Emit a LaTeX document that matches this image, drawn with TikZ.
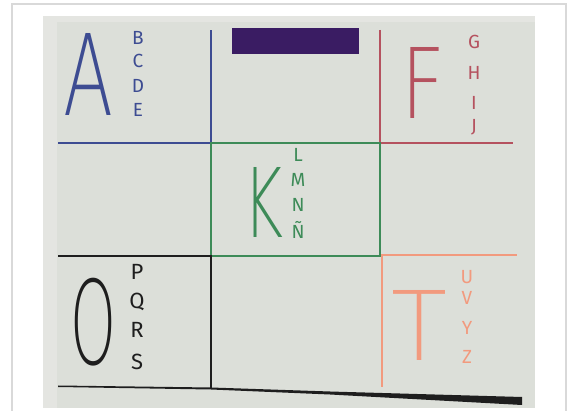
\documentclass[tikz,border=0pt]{standalone}
\usepackage{fontspec}
\setmainfont{Fira Sans}
\IfFontExistsTF{DejaVu Sans ExtraLight}
  {\newfontfamily\thinfont{DejaVu Sans ExtraLight}}
  {\newfontfamily\thinfont{DejaVu Sans}}
\definecolor{frame}{HTML}{D9D9D9}
\definecolor{paperedge}{HTML}{E4E5E1}
\definecolor{paper}{HTML}{DCDFD9}
\definecolor{penblue}{HTML}{3D4C92}
\definecolor{penred}{HTML}{B5525F}
\definecolor{pengreen}{HTML}{3D8B58}
\definecolor{penblack}{HTML}{1E1E1E}
\definecolor{penorange}{HTML}{F29A7E}
\definecolor{tape}{HTML}{3A1C63}
\tikzset{
  pen/.style={line width=0.8pt},
  big letter/.style={inner sep=0pt,font=\thinfont},
  small letter/.style={inner sep=0pt,font=\fontsize{9.5}{11}\selectfont},
}

\begin{document}
\begin{tikzpicture}[x=0.5pt,y=-0.5pt]
    \useasboundingbox (0,0) rectangle (568,411);
    \fill[white] (0,0) rectangle (568,411);
    \draw[frame,line width=0.8pt] (12,411) -- (12,4) -- (566,4) -- (566,411);
    % the sheet of paper
    \fill[paperedge] (43,16) rectangle (535,408);
    \fill[paper] (57,22) rectangle (535,408);
    % grid, one colour per corner
    \fill[tape] (232,28) rectangle (359,54);
    \draw[pen,penblue] (58,143) -- (211,143) -- (211,30);
    \draw[pen,penred] (380,30) -- (380,143) -- (513,143);
    \draw[pen,pengreen] (211,143) rectangle (380,256);
    \draw[pen,penblack] (58,256) -- (211,256) -- (211,388);
    \draw[pen,penorange] (382,387) -- (382,255) -- (517,255);
    \fill[penblack] (58,385.5) -- (211,387.5) -- (330,391.5) -- (522,397)
      -- (522,405) -- (330,394.5) -- (211,389.5) -- (58,387) -- cycle;
    % big letters
    \node[big letter,text=penblue] (bigA) at (88.5,74) {\resizebox*{25pt}{41pt}{A}};
    \node[big letter,text=penred] (bigF) at (423,82.5) {\resizebox*{22pt}{35.5pt}{F}};
    \node[big letter,text=pengreen] (bigK) at (264,202) {\resizebox*{20pt}{35pt}{K}};
    \node[big letter,text=penblack] (bigO) at (93,322) {\resizebox*{23pt}{44pt}{O}};
    \node[big letter,text=penorange] (bigT) at (420,325) {\resizebox*{28pt}{35pt}{T}};
    % small letters beside them
    \foreach \l/\y [count=\i] in {B/38,C/61,D/86,E/110}
      \node[small letter,text=penblue] (abcd\i) at (138,\y) {\l};
    \foreach \l/\y [count=\i] in {G/42,H/73,I/103,J/127}
      \node[small letter,text=penred] (ghij\i) at (474,\y) {\l};
    \foreach \l/\y [count=\i] in {L/155,M/180,N/205,Ñ/230}
      \node[small letter,text=pengreen] (lmnn\i) at (298,\y) {\l};
    \foreach \l/\y [count=\i] in {P/272,Q/302,R/330,S/362}
      \node[small letter,text=penblack,font=\fontsize{11}{13}\selectfont] (pqrs\i) at (137,\y) {\l};
    \foreach \l/\y [count=\i] in {U/277,V/298,Y/328,Z/357}
      \node[small letter,text=penorange] (uvyz\i) at (467,\y) {\l};
\end{tikzpicture}
\end{document}
